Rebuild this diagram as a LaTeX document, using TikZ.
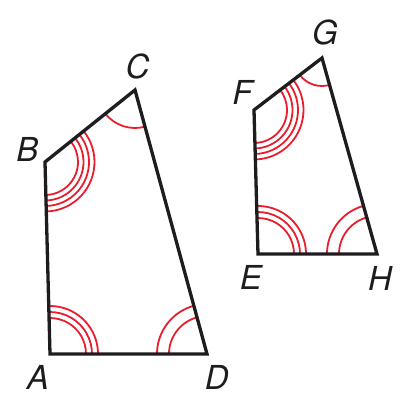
\documentclass[tikz,border=0pt]{standalone}
\usepackage{fontspec}
\setmainfont{TeX Gyre Heros}
\usetikzlibrary{angles}
\definecolor{arcred}{RGB}{232,30,45}
\definecolor{ink}{RGB}{30,28,30}
\tikzset{
  side/.style={draw=ink, line width=3.3pt, line join=miter},
  mk/.style={draw=arcred, line width=1.8pt},
  lbl/.style={text=ink, font=\fontsize{33}{33}\selectfont\itshape, inner sep=0pt}
}
\begin{document}
\begin{tikzpicture}[x=1pt,y=1pt]
\useasboundingbox (0,0) rectangle (409,413);
% ABCD
\coordinate (A) at (50,59);
\coordinate (B) at (45,251);
\coordinate (C) at (135,323);
\coordinate (D) at (207,59);
% EFGH
\coordinate (E) at (258,159);
\coordinate (F) at (254,303);
\coordinate (G) at (322,355);
\coordinate (H) at (377,159);
% angle marks
\foreach \r in {36,42,48} {
  \pic[mk, angle radius=\r pt] {angle = D--A--B};
  \pic[mk, angle radius=\r pt] {angle = H--E--F};
}
\foreach \r in {33,38.5,44,49.5} {
  \pic[mk, angle radius=\r pt] {angle = A--B--C};
  \pic[mk, angle radius=\r pt] {angle = E--F--G};
}
\pic[mk, angle radius=38pt] {angle = B--C--D};
\pic[mk, angle radius=28pt] {angle = F--G--H};
\foreach \r in {38,50} {
  \pic[mk, angle radius=\r pt] {angle = C--D--A};
  \pic[mk, angle radius=\r pt] {angle = G--H--E};
}
% sides
\draw[side] (A) -- (B) -- (C) -- (D) -- cycle;
\draw[side] (E) -- (F) -- (G) -- (H) -- cycle;
% labels
\node[lbl] (lA) at (38,35.5) {A};
\node[lbl] (lB) at (27.5,264) {B};
\node[lbl] (lC) at (137.5,346.5) {C};
\node[lbl] (lD) at (216.7,35.5) {D};
\node[lbl] (lE) at (251,135.5) {E};
\node[lbl] (lF) at (242.5,320.5) {F};
\node[lbl] (lG) at (325,381) {G};
\node[lbl] (lH) at (380,135) {H};
\end{tikzpicture}
\end{document}
